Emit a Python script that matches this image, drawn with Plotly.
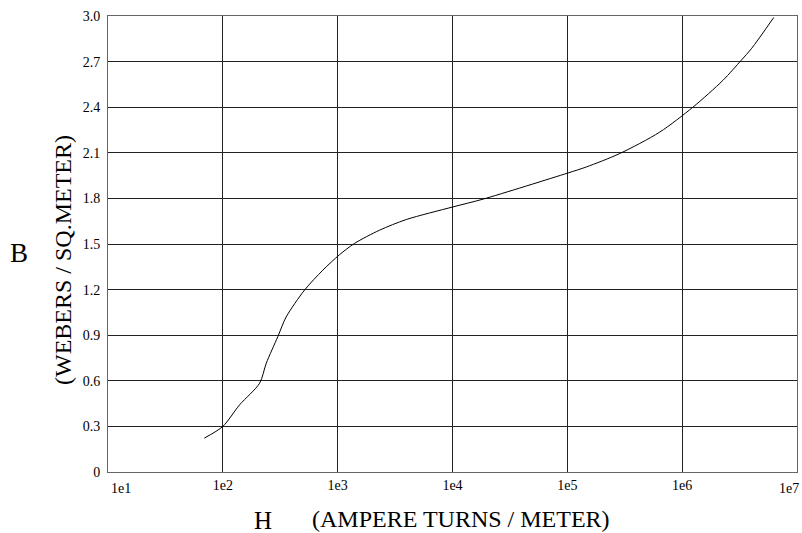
import plotly.graph_objects as go

H_values = [69, 100, 140, 209, 239, 301, 356, 515, 743, 1040, 1403, 2317, 3963,
            10090, 18400, 101000, 146600, 285800, 637000, 1240000, 2260000,
            3280000, 4000000, 6270000]
B_values = [0.223, 0.30, 0.442, 0.584, 0.716, 0.89, 1.02, 1.197, 1.328, 1.43,
            1.504, 1.591, 1.661, 1.744, 1.795, 1.967, 2.007, 2.095, 2.236, 2.40,
            2.576, 2.71, 2.784, 2.99]

x_tickvals = [1e1, 1e2, 1e3, 1e4, 1e5, 1e6, 1e7]
x_ticktext = ["1e1", "1e2", "1e3", "1e4", "1e5", "1e6", "1e7"]
y_tickvals = [0, 0.3, 0.6, 0.9, 1.2, 1.5, 1.8, 2.1, 2.4, 2.7, 3.0]
y_ticktext = ["0", "0.3", "0.6", "0.9", "1.2", "1.5", "1.8", "2.1", "2.4", "2.7", "3.0"]

FONT = "Liberation Serif"

FIG_W, FIG_H = 802, 533
ML, MR, MT, MB = 108, 5, 16, 61

fig = go.Figure()
fig.add_trace(go.Scatter(x=H_values, y=B_values, mode="lines",
                         line=dict(color="black", width=1, shape="spline", smoothing=0.8),
                         showlegend=False, hoverinfo="skip"))

plot_w = FIG_W - ML - MR
plot_h = FIG_H - MT - MB


def px_to_paper(px, py):
    fy = FIG_H - py
    return (px - ML) / plot_w, (fy - MB) / plot_h


def ann(text, px, py, size, angle=0):
    x, y = px_to_paper(px, py)
    return dict(text=text, x=x, y=y, xref="paper", yref="paper", showarrow=False,
                textangle=angle, font=dict(family=FONT, size=size, color="black"),
                xanchor="center", yanchor="middle")


# end tick labels: in the reference they sit slightly lower and inside the axis ends
_, end_y = px_to_paper(0, 488)
end_ticks = [
    dict(text=x_ticktext[0], x=1, xref="x", y=end_y, yref="paper", showarrow=False,
         xanchor="left", yanchor="middle", xshift=1,
         font=dict(family=FONT, size=14, color="black")),
    dict(text=x_ticktext[-1], x=7, xref="x", y=end_y, yref="paper", showarrow=False,
         xanchor="right", yanchor="middle", xshift=4,
         font=dict(family=FONT, size=14, color="black")),
]
shown_ticktext = [""] + x_ticktext[1:-1] + [""]

fig.update_layout(
    width=FIG_W, height=FIG_H,
    margin=dict(l=ML, r=MR, t=MT, b=MB),
    paper_bgcolor="white", plot_bgcolor="white",
    font=dict(family=FONT, size=14, color="black"),
    xaxis=dict(type="log", range=[1, 7], tickvals=x_tickvals, ticktext=shown_ticktext,
               showgrid=True, gridcolor="#222", gridwidth=1,
               showline=True, linecolor="#666", linewidth=1, mirror=True,
               ticks="", zeroline=False, ticklabelstandoff=0,
               tickfont=dict(family=FONT, size=14, color="black")),
    yaxis=dict(range=[0, 3], tickvals=y_tickvals, ticktext=y_ticktext,
               showgrid=True, gridcolor="#222", gridwidth=1,
               showline=True, linecolor="#666", linewidth=1, mirror=True,
               ticks="", zeroline=False, ticklabelstandoff=4,
               tickfont=dict(family=FONT, size=14, color="black")),
    annotations=[
        ann("B", 19, 253, 27),
        ann("(WEBERS / SQ.METER)", 63, 260, 24, -90),
        ann("H", 263, 520, 25),
        ann("(AMPERE TURNS / METER)", 461, 519, 24),
    ] + end_ticks,
)

fig.write_html(
    "out.html",
    config={"displayModeBar": False, "staticPlot": True},
    post_script=("document.body.style.margin='0';"
                 "document.body.style.overflow='hidden';"
                 "document.documentElement.style.overflow='hidden';"),
)
